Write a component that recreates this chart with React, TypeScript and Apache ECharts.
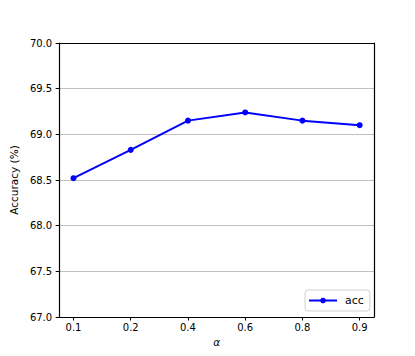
import React, { useEffect, useRef } from "react";
import * as echarts from "echarts";

const categories = ["0.1", "0.2", "0.4", "0.6", "0.8", "0.9"];
const accValues = [68.52, 68.83, 69.15, 69.24, 69.15, 69.1];
const yTicks = [67.0, 67.5, 68.0, 68.5, 69.0, 69.5, 70.0];

export default function App() {
  const ref = useRef<HTMLDivElement>(null);
  useEffect(() => {
    if (!ref.current) return;
    const chart = echarts.init(ref.current, null, { renderer: "svg" });
    const idx = categories.map((_, i) => i);
    const font = "DejaVu Sans";
    const frameAxis = {
      axisLine: { show: true, onZero: false, lineStyle: { color: "#000", width: 1.2 } },
      axisTick: { show: false },
      axisLabel: { show: false },
      splitLine: { show: false },
    };
    chart.setOption({
      animation: false,
      backgroundColor: "#ffffff",
      textStyle: { fontFamily: font },
      grid: {
        left: 52,
        top: 43,
        right: 41,
        bottom: 39,
        show: false,
        containLabel: false,
      },
      legend: {
        show: true,
        left: 305,
        top: 290,
        padding: [5, 6, 5, 3],
        itemWidth: 28,
        itemHeight: 7,
        itemGap: 6,
        borderColor: "#d0d0d0",
        borderWidth: 1,
        borderRadius: 3,
        backgroundColor: "#ffffff",
        lineStyle: { width: 2 },
        textStyle: { fontFamily: font, fontSize: 11, color: "#000", padding: [0, 0, 0, 3] },
        data: ["acc"],
      },
      xAxis: [
        {
          type: "value",
          min: -0.25,
          max: 5.25,
          name: "α",
          nameLocation: "middle",
          nameGap: 19,
          nameTextStyle: { fontFamily: font, fontSize: 10.5, fontStyle: "italic", color: "#000" },
          axisLine: { show: true, onZero: false, lineStyle: { color: "#000", width: 1.2 } },
          axisTick: { show: true, length: 3.5, lineStyle: { color: "#000" }, customValues: idx },
          axisLabel: {
            customValues: idx,
            formatter: (v: number) => categories[Math.round(v)] ?? "",
            fontSize: 10,
            color: "#000",
            margin: 5,
            fontFamily: font,
          },
          splitLine: { show: false },
        },
        { type: "value", position: "top", min: -0.25, max: 5.25, ...frameAxis },
      ],
      yAxis: [
        {
          type: "value",
          min: 67,
          max: 70,
          interval: 0.5,
          name: "Accuracy (%)",
          nameLocation: "middle",
          nameGap: 32,
          nameTextStyle: { fontFamily: font, fontSize: 10.5, color: "#000" },
          axisLine: { show: true, onZero: false, lineStyle: { color: "#000", width: 1.2 } },
          axisTick: { show: true, length: 3.5, lineStyle: { color: "#000" } },
          axisLabel: {
            formatter: (v: number) => (yTicks.includes(v) ? v.toFixed(1) : ""),
            fontSize: 10,
            color: "#000",
            margin: 7,
            fontFamily: font,
          },
          splitLine: {
            show: true,
            showMinLine: false,
            showMaxLine: false,
            lineStyle: { color: "#c0c0c0", width: 1 },
          },
        },
        { type: "value", position: "right", min: 67, max: 70, ...frameAxis },
      ],
      series: [
        {
          name: "acc",
          type: "line",
          xAxisIndex: 0,
          yAxisIndex: 0,
          data: accValues.map((v, i) => [i, v]),
          symbol: "circle",
          symbolSize: 6,
          lineStyle: { color: "#0000ff", width: 2 },
          itemStyle: { color: "#0000ff" },
        },
      ],
    });
    return () => chart.dispose();
  }, []);
  return <div ref={ref} style={{ width: 415, height: 356, position: "absolute", left: 0, top: 0 }} />;
}
